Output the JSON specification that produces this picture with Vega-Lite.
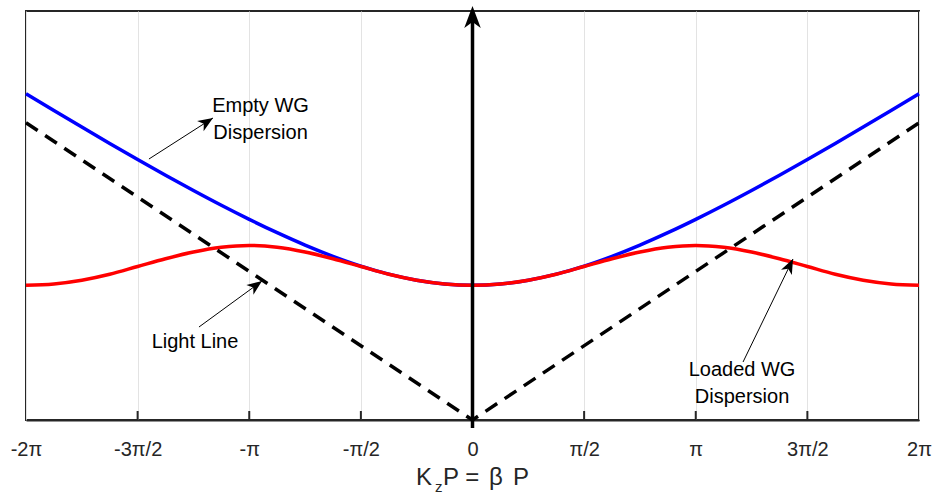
{
  "$schema": "https://vega.github.io/schema/vega-lite/v6.json",
  "width": 893,
  "height": 409,
  "autosize": "none",
  "padding": {"left": 26, "top": 11, "right": 16, "bottom": 75},
  "config": {
    "view": {"stroke": "#262626", "strokeWidth": 2},
    "font": "Liberation Sans"
  },
  "datasets": {
    "empty": [
      {"k": -6.2832, "w": 6.899}, {"k": -5.8905, "w": 6.544}, {"k": -5.4978, "w": 6.193}, {"k": -5.1051, "w": 5.847},
      {"k": -4.7124, "w": 5.507}, {"k": -4.3197, "w": 5.175}, {"k": -3.927, "w": 4.852}, {"k": -3.5343, "w": 4.54},
      {"k": -3.1416, "w": 4.242}, {"k": -2.7489, "w": 3.96}, {"k": -2.3562, "w": 3.698}, {"k": -1.9635, "w": 3.461},
      {"k": -1.5708, "w": 3.254}, {"k": -1.1781, "w": 3.084}, {"k": -0.7854, "w": 2.956}, {"k": -0.3927, "w": 2.877},
      {"k": 0, "w": 2.85},
      {"k": 0.3927, "w": 2.877}, {"k": 0.7854, "w": 2.956}, {"k": 1.1781, "w": 3.084}, {"k": 1.5708, "w": 3.254},
      {"k": 1.9635, "w": 3.461}, {"k": 2.3562, "w": 3.698}, {"k": 2.7489, "w": 3.96}, {"k": 3.1416, "w": 4.242},
      {"k": 3.5343, "w": 4.54}, {"k": 3.927, "w": 4.852}, {"k": 4.3197, "w": 5.175}, {"k": 4.7124, "w": 5.507},
      {"k": 5.1051, "w": 5.847}, {"k": 5.4978, "w": 6.193}, {"k": 5.8905, "w": 6.544}, {"k": 6.2832, "w": 6.899}
    ],
    "loaded": [
      {"k": -6.2832, "w": 2.85}, {"k": -5.8905, "w": 2.877}, {"k": -5.4978, "w": 2.955}, {"k": -5.1051, "w": 3.08},
      {"k": -4.7124, "w": 3.245}, {"k": -4.3197, "w": 3.41}, {"k": -3.927, "w": 3.55}, {"k": -3.5343, "w": 3.65},
      {"k": -3.1416, "w": 3.69}, {"k": -2.7489, "w": 3.65}, {"k": -2.3562, "w": 3.55}, {"k": -1.9635, "w": 3.41},
      {"k": -1.5708, "w": 3.245}, {"k": -1.1781, "w": 3.08}, {"k": -0.7854, "w": 2.955}, {"k": -0.3927, "w": 2.877},
      {"k": 0, "w": 2.85},
      {"k": 0.3927, "w": 2.877}, {"k": 0.7854, "w": 2.955}, {"k": 1.1781, "w": 3.08}, {"k": 1.5708, "w": 3.245},
      {"k": 1.9635, "w": 3.41}, {"k": 2.3562, "w": 3.55}, {"k": 2.7489, "w": 3.65}, {"k": 3.1416, "w": 3.69},
      {"k": 3.5343, "w": 3.65}, {"k": 3.927, "w": 3.55}, {"k": 4.3197, "w": 3.41}, {"k": 4.7124, "w": 3.245},
      {"k": 5.1051, "w": 3.08}, {"k": 5.4978, "w": 2.955}, {"k": 5.8905, "w": 2.877}, {"k": 6.2832, "w": 2.85}
    ],
    "light": [
      {"k": -6.2832, "w": 6.2832}, {"k": 0, "w": 0}, {"k": 6.2832, "w": 6.2832}
    ],
    "ticks": [
      {"k": -4.71238898038469, "w": 0, "w2": 0.19},
      {"k": -3.141592653589793, "w": 0, "w2": 0.19},
      {"k": -1.5707963267948966, "w": 0, "w2": 0.19},
      {"k": 1.5707963267948966, "w": 0, "w2": 0.19},
      {"k": 3.141592653589793, "w": 0, "w2": 0.19},
      {"k": 4.71238898038469, "w": 0, "w2": 0.19}
    ],
    "zaxis": [
      {"k": 0, "w": -0.17, "w2": 8.6}
    ],
    "zhead": [
      {"k": 0, "w": 8.753, "angle": 0}
    ],
    "pointers": [
      {"k": -4.553, "w": 5.518, "k2": -3.652, "w2": 6.385},
      {"k": -3.849, "w": 1.966, "k2": -2.962, "w2": 2.939},
      {"k": 3.807, "w": 1.226, "k2": 4.51, "w2": 3.404}
    ],
    "heads": [
      {"k": -3.652, "w": 6.385, "angle": 57.4},
      {"k": -2.962, "w": 2.939, "angle": 53.9},
      {"k": 4.51, "w": 3.404, "angle": 25.9}
    ],
    "notes": [
      {"k": -2.983, "w": 6.638, "label": "Empty WG"},
      {"k": -2.983, "w": 6.068, "label": "Dispersion"},
      {"k": -3.905, "w": 1.649, "label": "Light Line"},
      {"k": 3.793, "w": 1.057, "label": "Loaded WG"},
      {"k": 3.793, "w": 0.486, "label": "Dispersion"}
    ],
    "xtitle": [
      {"k": -0.795, "w": -1.374, "piece": "K", "size": 24, "style": "normal"},
      {"k": -0.528, "w": -1.52, "piece": "z", "size": 15, "style": "normal"},
      {"k": -0.415, "w": -1.374, "piece": "P =", "size": 24, "style": "normal"},
      {"k": 0.232, "w": -1.374, "piece": "β", "size": 24, "style": "italic"},
      {"k": 0.57, "w": -1.374, "piece": "P", "size": 24, "style": "normal"}
    ]
  },
  "encoding": {
    "x": {
      "field": "k",
      "type": "quantitative",
      "scale": {"domain": [-6.283185307179586, 6.283185307179586], "nice": false, "zero": false},
      "axis": {
        "title": null,
        "values": [-6.283185307179586, -4.71238898038469, -3.141592653589793, -1.5707963267948966, 0, 1.5707963267948966, 3.141592653589793, 4.71238898038469, 6.283185307179586],
        "labelExpr": "['-2π','-3π/2','-π','-π/2','0','π/2','π','3π/2','2π'][round(datum.value * 2 / PI) + 4]",
        "grid": true,
        "gridColor": "#e3e3e3",
        "gridWidth": 1,
        "domainColor": "#262626",
        "domainWidth": 2,
        "ticks": false,
        "labelPadding": 19,
        "labelFont": "Liberation Sans",
        "labelFontSize": 20,
        "labelColor": "#262626",
        "labelFlush": false,
        "labelOverlap": false,
        "labelBound": false
      }
    },
    "y": {
      "field": "w",
      "type": "quantitative",
      "scale": {"domain": [0, 8.647], "nice": false, "zero": false},
      "axis": null
    }
  },
  "layer": [
    {
      "data": {"name": "ticks"},
      "mark": {"type": "rule", "color": "#262626", "strokeWidth": 2},
      "encoding": {"y2": {"field": "w2"}}
    },
    {
      "data": {"name": "empty"},
      "mark": {"type": "line", "color": "#0000ff", "strokeWidth": 3.5, "interpolate": "monotone"}
    },
    {
      "data": {"name": "loaded"},
      "mark": {"type": "line", "color": "#ff0000", "strokeWidth": 3.5, "interpolate": "monotone"}
    },
    {
      "data": {"name": "light"},
      "mark": {"type": "line", "color": "#000000", "strokeWidth": 3.5, "strokeDash": [14, 9]}
    },
    {
      "data": {"name": "zaxis"},
      "mark": {"type": "rule", "color": "#000000", "strokeWidth": 3.5},
      "encoding": {"y2": {"field": "w2"}}
    },
    {
      "data": {"name": "zhead"},
      "mark": {"type": "point", "shape": "M0,0L0.75,2L0,1.45L-0.75,2Z", "filled": true, "color": "#000000", "opacity": 1, "size": 484},
      "encoding": {"angle": {"field": "angle", "type": "quantitative", "scale": null}}
    },
    {
      "data": {"name": "pointers"},
      "mark": {"type": "rule", "color": "#000000", "strokeWidth": 1},
      "encoding": {"x2": {"field": "k2"}, "y2": {"field": "w2"}}
    },
    {
      "data": {"name": "heads"},
      "mark": {"type": "point", "shape": "M0,0L0.8,2L0,1.45L-0.8,2Z", "filled": true, "color": "#000000", "opacity": 1, "size": 225},
      "encoding": {"angle": {"field": "angle", "type": "quantitative", "scale": null}}
    },
    {
      "data": {"name": "notes"},
      "mark": {"type": "text", "font": "Liberation Sans", "fontSize": 20, "color": "#000000", "align": "center", "baseline": "middle"},
      "encoding": {"text": {"field": "label"}}
    },
    {
      "data": {"name": "xtitle"},
      "mark": {"type": "text", "font": "Liberation Sans", "color": "#262626", "align": "left", "baseline": "alphabetic"},
      "encoding": {
        "text": {"field": "piece"},
        "size": {"field": "size", "type": "quantitative", "scale": null},
        "fontStyle": {"field": "style", "type": "nominal", "scale": null}
      }
    }
  ]
}
